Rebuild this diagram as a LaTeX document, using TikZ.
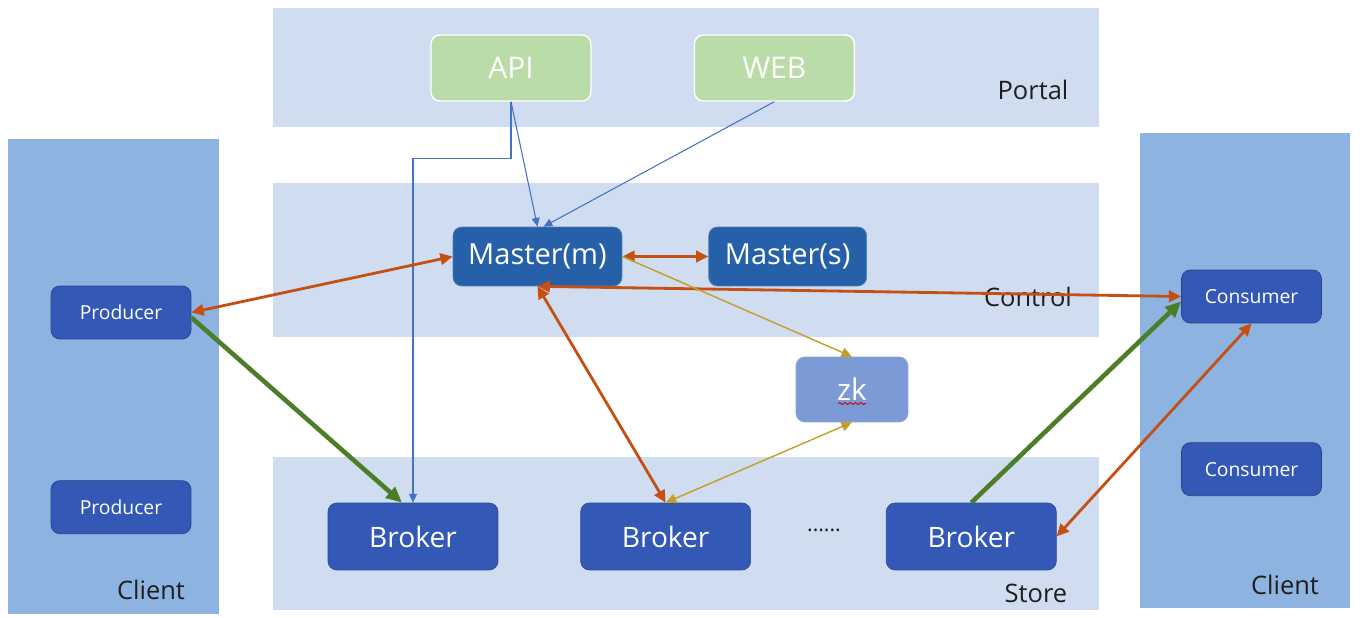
\documentclass[tikz,border=0pt]{standalone}
\usepackage{fontspec}
\setmainfont{Open Sans}
\usetikzlibrary{arrows.meta, positioning, decorations.pathmorphing}
\definecolor{bandblue}{RGB}{208,220,239}
\definecolor{clientblue}{RGB}{141,180,224}
\definecolor{portalgreen}{RGB}{185,220,168}
\definecolor{masterblue}{RGB}{38,96,168}
\definecolor{nodeblue}{RGB}{52,88,181}
\definecolor{zkblue}{RGB}{124,154,214}
\definecolor{linkorange}{RGB}{197,80,20}
\definecolor{linkgreen}{RGB}{76,125,40}
\definecolor{linkgold}{RGB}{196,158,40}
\definecolor{linkblue}{RGB}{68,114,196}
\definecolor{labelgray}{RGB}{30,30,30}

\begin{document}
\begin{tikzpicture}[
    x=0.02cm, y=-0.02cm,
    node distance=1cm and 1cm,
    box/.style={rectangle, rounded corners=5pt, text=white, inner sep=0pt},
    portalbox/.style={box, fill=portalgreen, draw=white, line width=0.8pt, minimum width=3.2cm, minimum height=1.32cm, font=\fontsize{17}{20}\selectfont},
    masterbox/.style={box, fill=masterblue, draw=masterblue!80!white, minimum height=1.18cm, font=\fontsize{16.5}{20}\selectfont},
    clientbox/.style={box, fill=nodeblue, draw=nodeblue!75!black, minimum width=2.8cm, minimum height=1.06cm, font=\fontsize{11}{13}\selectfont},
    brokerbox/.style={box, fill=nodeblue, draw=nodeblue!85!black, minimum width=3.4cm, minimum height=1.34cm, font=\fontsize{16}{19}\selectfont},
    layer/.style={font=\fontsize{14.5}{17}\selectfont, text=labelgray},
    datalink/.style={line width=2.6pt, draw=linkgreen, -{Triangle[length=9pt, width=8pt]}},
    masterlink/.style={line width=1.6pt, {Triangle[length=7pt, width=6.5pt]}-{Triangle[length=7pt, width=6.5pt]}, draw=linkorange},
    portallink/.style={line width=0.6pt, draw=linkblue, -{Triangle[length=5pt, width=4.5pt]}},
    zklink/.style={line width=0.8pt, draw=linkgold, -{Triangle[length=6pt, width=5.5pt]}},
]
\useasboundingbox (0,0) rectangle (1360,618);

% Layers
\fill[bandblue] (273,8) rectangle (1099,127);
\fill[bandblue] (273,183) rectangle (1099,337);
\fill[bandblue] (273,457) rectangle (1099,610);
\fill[clientblue] (8,139) rectangle (219,614);
\fill[clientblue] (1140,133) rectangle (1350,608);

% Portal
\node[portalbox] (api) at (511,68) {API};
\node[portalbox, right=2.04cm of api] (web) {WEB};

% Control
\node[masterbox, minimum width=3.38cm] (mm) at (537.5,256.5) {Master(m)};
\node[masterbox, minimum width=3.16cm, right=1.72cm of mm] (ms) {Master(s)};
\node[box, fill=zkblue, draw=zkblue!90!white, minimum width=2.24cm, minimum height=1.3cm, font=\fontsize{17}{20}\selectfont] (zk) at (852,389.5) {zk};
\draw[red!80!black, line width=0.5pt, decorate, decoration={snake, amplitude=0.6pt, segment length=3pt}] ([xshift=-0.28cm, yshift=-0.28cm]zk.center) -- ([xshift=0.28cm, yshift=-0.28cm]zk.center);

% Clients
\node[clientbox] (p1) at (121,312.5) {Producer};
\node[clientbox, below=2.82cm of p1] (p2) {Producer};
\node[clientbox] (c1) at (1251.5,296.5) {Consumer};
\node[clientbox, below=2.38cm of c1] (c2) {Consumer};

% Store
\node[brokerbox] (b1) at (413,536.5) {Broker};
\node[brokerbox, right=1.64cm of b1] (b2) {Broker};
\node[brokerbox, right=2.7cm of b2] (b3) {Broker};
\node[font=\fontsize{12}{14}\selectfont, text=labelgray] (dots) at (824,530) {......};

% Labels
\node[layer] (lportal) at (1033,90) {Portal};
\node[layer] (lcontrol) at (1028,297) {Control};
\node[layer] (lstore) at (1036,593) {Store};
\node[layer] (lclientl) at (151,590) {Client};
\node[layer] (lclientr) at (1285,585) {Client};

% Arrows
\draw[portallink] (api.south) -- (mm.north);
\draw[portallink] (web.south) -- ([xshift=0.12cm]mm.north);
\draw[portallink] (api.south) -- ++(0,57) -| (b1.north);
\draw[masterlink] (mm.east) -- (ms.west);
\draw[masterlink] (mm.west) -- (p1.east);
\draw[masterlink] (mm.south) -- (c1.west);
\draw[masterlink] (mm.south) -- (b2.north);
\draw[zklink] (mm.east) -- (zk.north);
\draw[zklink, {Triangle[length=6pt, width=5.5pt]}-{Triangle[length=6pt, width=5.5pt]}] (b2.north) -- (zk.south);
\draw[masterlink] (b3.east) -- (c1.south);
\draw[datalink] ([yshift=-0.1cm]p1.east) -- ([xshift=-0.22cm]b1.north);
\draw[datalink] (b3.north) -- ([yshift=-0.1cm]c1.west);
\end{tikzpicture}
\end{document}
